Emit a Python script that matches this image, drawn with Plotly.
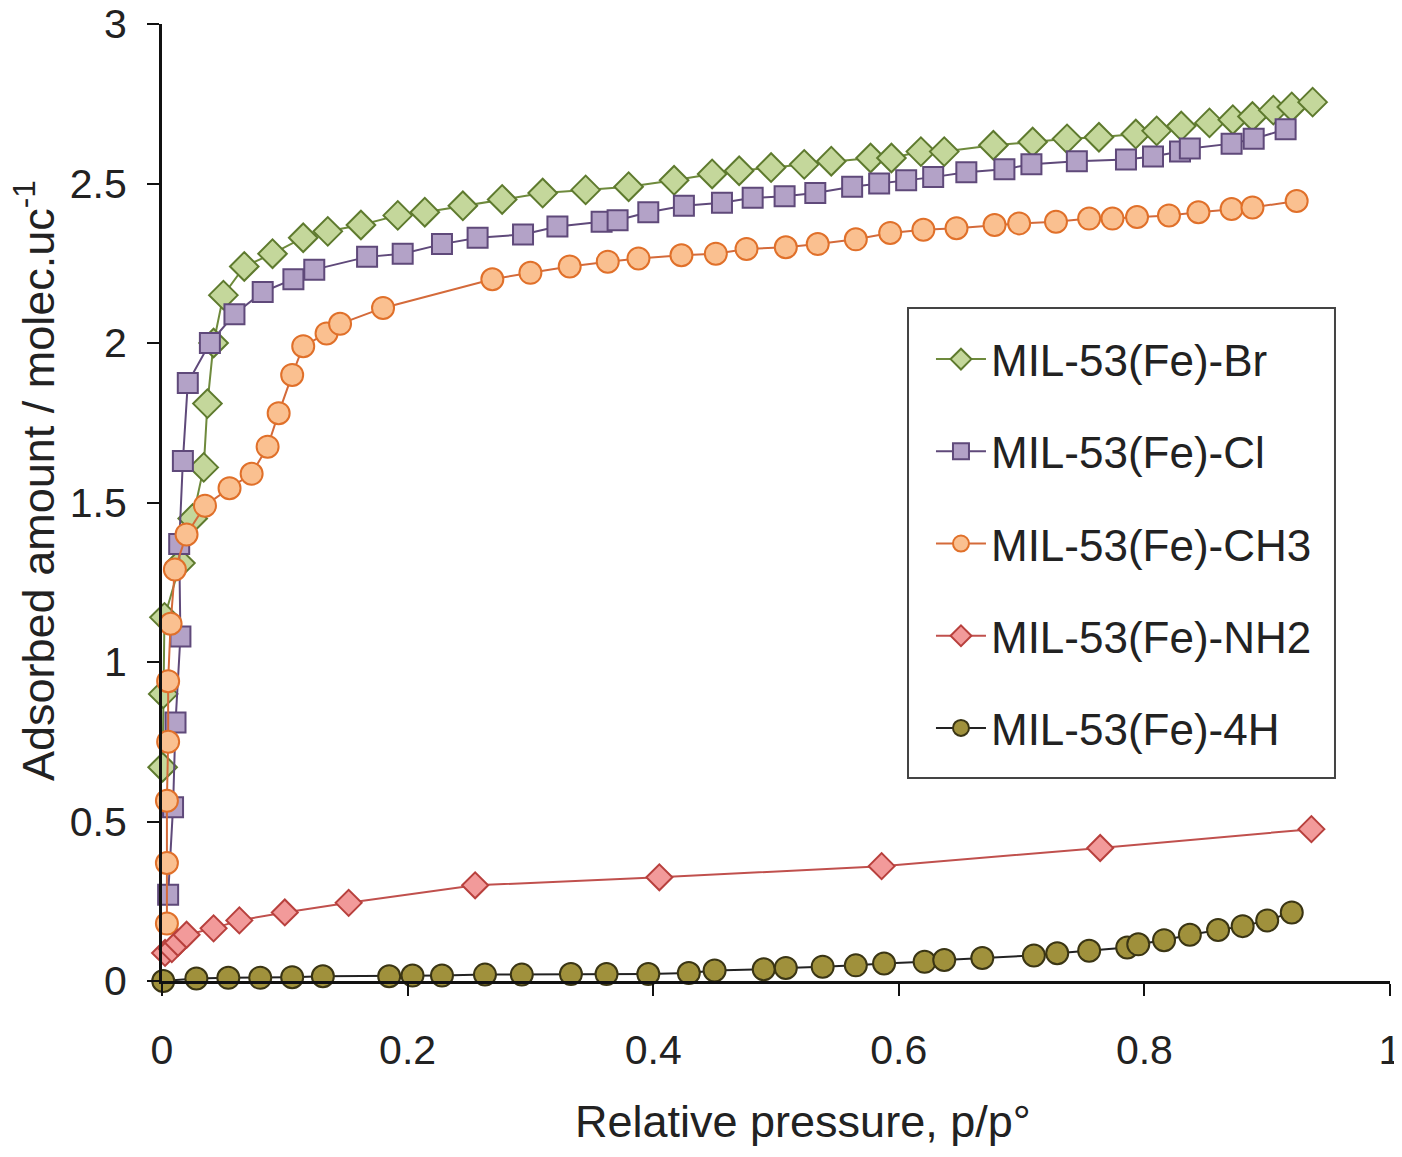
import plotly.graph_objects as go

# ---- data ----
br_x = [0.0005, 0.001, 0.002, 0.015, 0.025, 0.034, 0.037, 0.042, 0.05, 0.067, 0.09, 0.115, 0.135, 0.162,
        0.192, 0.214, 0.245, 0.277, 0.31, 0.345, 0.38, 0.417, 0.448, 0.47, 0.496, 0.523, 0.545, 0.577,
        0.594, 0.618, 0.637, 0.677, 0.709, 0.737, 0.763, 0.793, 0.81, 0.83, 0.853, 0.872, 0.888, 0.905,
        0.92, 0.937]
br_y = [0.67, 0.90, 1.14, 1.31, 1.45, 1.61, 1.81, 2.0, 2.15, 2.24, 2.28, 2.33, 2.35, 2.37,
        2.40, 2.41, 2.43, 2.45, 2.47, 2.48, 2.49, 2.51, 2.53, 2.54, 2.55, 2.56, 2.57, 2.58,
        2.58, 2.60, 2.60, 2.62, 2.63, 2.64, 2.645, 2.655, 2.665, 2.68, 2.69, 2.70, 2.71, 2.73,
        2.74, 2.755]

cl_x = [0.005, 0.009, 0.011, 0.015, 0.014, 0.017, 0.021, 0.039, 0.059, 0.082, 0.107, 0.124, 0.167,
        0.196, 0.228, 0.257, 0.294, 0.322, 0.358, 0.371, 0.396, 0.425, 0.456, 0.481, 0.507, 0.532,
        0.562, 0.584, 0.606, 0.628, 0.655, 0.686, 0.708, 0.745, 0.785, 0.807, 0.829, 0.837, 0.871,
        0.889, 0.915]
cl_y = [0.27, 0.545, 0.81, 1.08, 1.37, 1.63, 1.875, 2.0, 2.09, 2.16, 2.20, 2.23, 2.27,
        2.28, 2.31, 2.33, 2.34, 2.365, 2.38, 2.385, 2.41, 2.43, 2.44, 2.455, 2.46, 2.47,
        2.49, 2.50, 2.51, 2.52, 2.535, 2.545, 2.56, 2.57, 2.575, 2.585, 2.60, 2.61, 2.625,
        2.64, 2.67]

ch3_x = [0.004, 0.004, 0.004, 0.005, 0.005, 0.007, 0.0105, 0.02, 0.035, 0.055, 0.073, 0.086, 0.095,
         0.106, 0.115, 0.134, 0.145, 0.18, 0.269, 0.30, 0.332, 0.363, 0.388, 0.423, 0.451, 0.476,
         0.508, 0.534, 0.565, 0.593, 0.62, 0.647, 0.678, 0.698, 0.728, 0.755, 0.774, 0.794, 0.82,
         0.844, 0.871, 0.888, 0.924]
ch3_y = [0.18, 0.37, 0.565, 0.75, 0.94, 1.12, 1.29, 1.40, 1.49, 1.545, 1.59, 1.675, 1.78,
         1.90, 1.99, 2.03, 2.06, 2.11, 2.20, 2.22, 2.24, 2.255, 2.265, 2.275, 2.28, 2.295,
         2.30, 2.31, 2.325, 2.345, 2.355, 2.36, 2.37, 2.375, 2.38, 2.39, 2.39, 2.395, 2.40,
         2.41, 2.42, 2.425, 2.445]

nh2_x = [0.0025, 0.008, 0.013, 0.02, 0.042, 0.063, 0.10, 0.152, 0.255, 0.405, 0.586, 0.764, 0.936]
nh2_y = [0.088, 0.10, 0.12, 0.145, 0.165, 0.19, 0.215, 0.245, 0.30, 0.325, 0.36, 0.417, 0.476]

h4_x = [0.001, 0.028, 0.054, 0.08, 0.106, 0.131, 0.185, 0.204, 0.228, 0.263, 0.293, 0.333, 0.362,
        0.396, 0.429, 0.45, 0.49, 0.508, 0.538, 0.565, 0.588, 0.621, 0.637, 0.668, 0.71, 0.729,
        0.755, 0.786, 0.795, 0.816, 0.837, 0.86, 0.88, 0.9, 0.92]
h4_y = [0.0, 0.008, 0.01, 0.01, 0.012, 0.015, 0.015, 0.017, 0.017, 0.02, 0.02, 0.022, 0.022,
        0.022, 0.025, 0.033, 0.037, 0.041, 0.045, 0.049, 0.055, 0.06, 0.066, 0.072, 0.08, 0.087,
        0.095, 0.105, 0.115, 0.128, 0.145, 0.16, 0.172, 0.19, 0.215]

names = ["MIL-53(Fe)-Br", "MIL-53(Fe)-Cl", "MIL-53(Fe)-CH3", "MIL-53(Fe)-NH2", "MIL-53(Fe)-4H"]
x_ticks = [0, 0.2, 0.4, 0.6, 0.8, 1]
x_ticktext = ["0", "0.2", "0.4", "0.6", "0.8", "1"]
y_ticks = [0, 0.5, 1, 1.5, 2, 2.5, 3]
y_ticktext = ["0", "0.5", "1", "1.5", "2", "2.5", "3"]
x_title = "Relative pressure, p/p°"
y_title = "Adsorbed amount / molec.uc<sup>-1</sup>"

FONT = "Liberation Sans, Arial, sans-serif"

styles = [
    dict(symbol="diamond", size=22, fill="#C4D79B", edge="#5E7A2E", line="#6E8A3C"),
    dict(symbol="square", size=20, fill="#B3A2C7", edge="#5F497A", line="#5F497A"),
    dict(symbol="circle", size=22, fill="#FAC090", edge="#E0702A", line="#D46A3A"),
    dict(symbol="diamond", size=20, fill="#F29A9A", edge="#B8403D", line="#C0504D"),
    dict(symbol="circle", size=22, fill="#A0913C", edge="#3A3514", line="#222222"),
]
series = [(br_x, br_y), (cl_x, cl_y), (ch3_x, ch3_y), (nh2_x, nh2_y), (h4_x, h4_y)]

fig = go.Figure()
for i, ((xs, ys), nm, st) in enumerate(zip(series, names, styles)):
    fig.add_trace(go.Scatter(
        x=xs, y=ys, name=nm, mode="lines+markers", legendgroup=f"g{i}",
        cliponaxis=False,
        line=dict(color=st["line"], width=2),
        marker=dict(symbol=st["symbol"], size=st["size"], color=st["fill"],
                    line=dict(color=st["edge"], width=2)),
    ))

# legend frame
fig.add_shape(type="rect", xref="paper", yref="paper",
              x0=0.6075, x1=0.9552, y0=0.2121, y1=0.7032,
              line=dict(color="#444444", width=2), fillcolor="white", layer="below")

# axis titles (placed as in the reference)
fig.add_annotation(text=x_title, xref="paper", yref="paper", x=0.522, y=-0.1463,
                   xanchor="center", yanchor="middle", showarrow=False,
                   font=dict(family=FONT, size=45, color="#222222"))
fig.add_annotation(text=y_title, xref="paper", yref="paper", x=-0.1034, y=0.5225,
                   xanchor="center", yanchor="middle", showarrow=False, textangle=-90,
                   font=dict(family=FONT, size=45, color="#222222"))

fig.update_layout(
    width=1386, height=1141,
    margin=dict(l=154, r=4, t=16, b=168),
    paper_bgcolor="white", plot_bgcolor="white",
    font=dict(family=FONT, size=41, color="#222222"),
    showlegend=True,
    legend=dict(
        x=0.6262, y=0.6865, xanchor="left", yanchor="top",
        bgcolor="rgba(0,0,0,0)", borderwidth=0,
        font=dict(family=FONT, size=44, color="#222222"),
        tracegroupgap=32, itemwidth=50,
    ),
    xaxis=dict(
        range=[0, 1], tickvals=x_ticks, ticktext=x_ticktext, automargin=False,
        showgrid=False, zeroline=False, showline=True, linecolor="#111111", linewidth=3,
        ticks="outside", ticklen=12, tickwidth=2, tickcolor="#111111",
        ticklabelstandoff=19, ticklabeloverflow="allow",
    ),
    yaxis=dict(
        range=[0, 3], tickvals=y_ticks, ticktext=y_ticktext, automargin=False,
        showgrid=False, zeroline=False, showline=True, linecolor="#111111", linewidth=3,
        ticks="outside", ticklen=12, tickwidth=2, tickcolor="#111111",
        ticklabelstandoff=12, ticklabeloverflow="allow",
    ),
)

fig.write_html("out.html")
